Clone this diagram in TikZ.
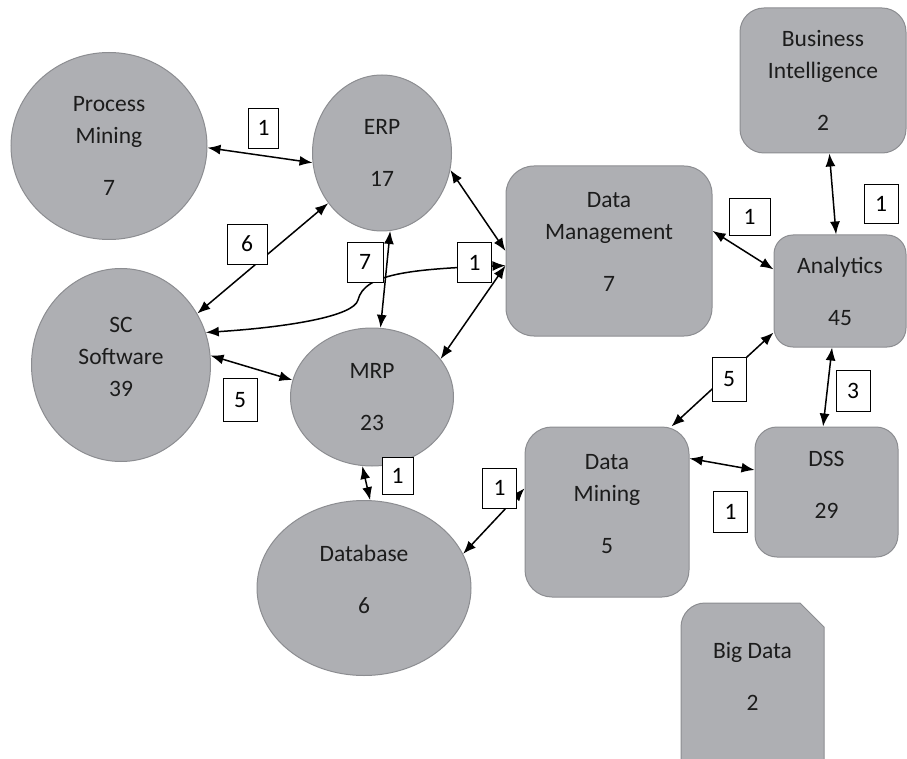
\documentclass[tikz,border=0pt]{standalone}
\usepackage{fontspec}
\setmainfont{Carlito}
\usetikzlibrary{shapes.geometric,arrows.meta}
\definecolor{blobgray}{RGB}{174,175,179}
\definecolor{edgegray}{RGB}{140,141,145}
\definecolor{inkgray}{RGB}{28,28,28}

\begin{document}
\begin{tikzpicture}[x=1pt,y=-1pt,>={Latex[length=13pt,width=10pt]},
  every node/.style={font=\fontsize{23.5pt}{32pt}\selectfont,align=center},
  blob/.style={ellipse,draw=edgegray,fill=blobgray,line width=1pt,inner sep=0pt,text=inkgray},
  box/.style={rectangle,draw=edgegray,fill=blobgray,line width=1pt,inner sep=0pt,text=inkgray},
  tag/.style={rectangle,draw=black,fill=white,line width=0.8pt,inner sep=0pt,minimum width=34pt,minimum height=40pt},
  link/.style={<->,line width=1.5pt}]
\useasboundingbox (0,0) rectangle (907,759);
\clip (0,0) rectangle (907,759);
% noeuds ronds
\node[blob,minimum width=196pt,minimum height=187pt] (pm) at (109,146) {Process\\Mining\\[20pt]7};
\node[blob,minimum width=139pt,minimum height=156pt] (erp) at (382,153) {ERP\\[20pt]17};
\node[blob,minimum width=179pt,minimum height=193pt,text depth=17pt] (sc) at (121,365) {SC\\Software\\39};
\node[blob,minimum width=163pt,minimum height=138pt] (mrp) at (372,397) {MRP\\[20pt]23};
\node[blob,minimum width=214pt,minimum height=175pt,text depth=18pt] (db) at (364,588) {Database\\[20pt]6};
% noeuds carres
\node[box,rounded corners=28pt,minimum width=206pt,minimum height=170pt,text depth=19pt] (dmg) at (609,251) {Data\\Management\\[20pt]7};
\node[box,rounded corners=24pt,minimum width=166pt,minimum height=145pt] (bi) at (823,80.5) {Business\\Intelligence\\[20pt]2};
\node[box,rounded corners=19pt,minimum width=132pt,minimum height=112pt] (ana) at (840,291) {Analytics\\[20pt]45};
\node[box,rounded corners=22pt,minimum width=143pt,minimum height=130pt,text depth=15pt] (dss) at (826.5,492) {DSS\\[20pt]29};
\node[box,rounded corners=27pt,minimum width=164pt,minimum height=170pt,text depth=17pt] (dmin) at (607,512) {Data\\Mining\\[20pt]5};
% big data
\filldraw[draw=edgegray,fill=blobgray,line width=1pt] (681,770) -- (681,627) arc[start angle=180,end angle=270,radius=24] -- (800,603) -- (824,627) -- (824,770);
\node[text=inkgray] (bigdata) at (752.5,676) {Big Data\\[20pt]2};
% fleches
\draw[link] (pm.-1) -- (erp.188);
\draw[link] (sc.34) -- (erp.223.5);
\coordinate (bend) at (358,300);
\draw[link] (dmg.188) .. controls (410,269) and (364,274) .. (bend) .. controls (354,316) and (290,327) .. (sc.21);
\draw[link] (erp.-14) -- (dmg.180);
\draw[link] (mrp.29.5) -- (dmg.188);
\draw[link] (erp.-84) -- (mrp.83.5);
\draw[link] (sc.6) -- (mrp.168);
\draw[link] (mrp.262.5) -- (db.86);
\draw[link] (dmin.164) -- (db.19.5);
\draw[link] (dmg.11.4) -- (ana.162.3);
\draw[link] (bi.-85) -- (ana.94.5);
\draw[link] (ana.212.6) -- (dmin.53.4);
\draw[link] (ana.-98.6) -- (dss.93.6);
\draw[link] (dmin.33.5) -- (dss.163);
% etiquettes
\node[tag,minimum width=30pt] (t1) at (263.5,128) {1};
\node[tag,minimum width=40pt] (t2) at (247,244) {6};
\node[tag,minimum width=36pt] (t3) at (365,262) {7};
\node[tag] (t4) at (474.5,262.5) {1};
\node[tag,minimum height=43pt] (t5) at (240,400) {5};
\node[tag,minimum width=31pt,minimum height=37pt] (t6) at (397.5,475.5) {1};
\node[tag] (t7) at (499.5,488) {1};
\node[tag,minimum width=41pt,minimum height=37pt] (t8) at (749.5,216.5) {1};
\node[tag,minimum height=39pt] (t9) at (881,203.5) {1};
\node[tag,minimum height=44pt] (t10) at (729,379) {5};
\node[tag,minimum height=41pt] (t11) at (853,390.5) {3};
\node[tag,minimum height=41pt] (t12) at (730.5,511.5) {1};
\end{tikzpicture}
\end{document}
